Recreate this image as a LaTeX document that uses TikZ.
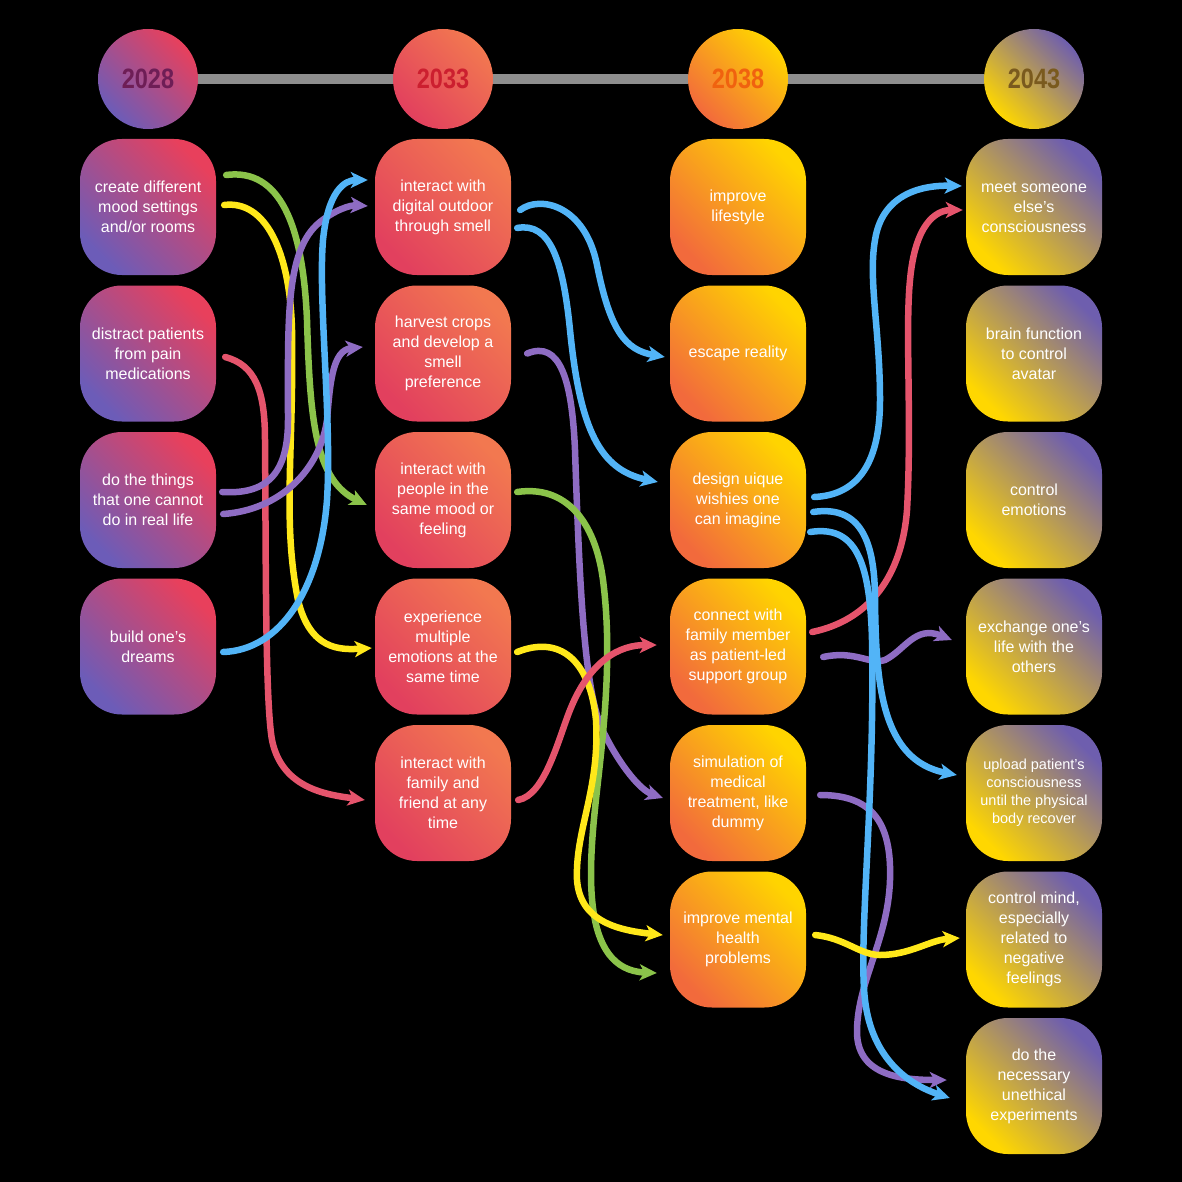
\documentclass[tikz,border=0pt]{standalone}
\usepackage{fontspec}
\setmainfont{Liberation Sans}
\newfontfamily\yearfont[FakeStretch=0.84]{Liberation Sans}
\usetikzlibrary{arrows.meta,calc}
\definecolor{gAbot}{HTML}{6C5CB8}\definecolor{gAtop}{HTML}{E8405C}
\definecolor{gBbot}{HTML}{E2405E}\definecolor{gBtop}{HTML}{F27850}
\definecolor{gCbot}{HTML}{F26A3C}\definecolor{gCtop}{HTML}{FFD400}
\definecolor{gDbot}{HTML}{FFD700}\definecolor{gDtop}{HTML}{6E5EAE}
\definecolor{yA}{HTML}{6E1E56}\definecolor{yB}{HTML}{CC1F2F}
\definecolor{yC}{HTML}{F0620F}\definecolor{yD}{HTML}{7A5A1E}
\definecolor{cgreen}{HTML}{8BC34A}\definecolor{cyellow}{HTML}{FFE81A}
\definecolor{cblue}{HTML}{52B4F7}\definecolor{cpurple}{HTML}{8E6CC3}
\definecolor{cred}{HTML}{E5546C}\definecolor{bargray}{HTML}{8E8E8E}
\begin{document}
\begin{tikzpicture}[x=1pt,y=-1pt,
  box/.style={rounded corners=42pt, minimum width=136pt, minimum height=136pt, inner sep=0pt, text=white, align=center, font=\fontsize{16}{20}\selectfont},
  year/.style={circle, minimum size=100pt, inner sep=0pt, font=\yearfont\bfseries\fontsize{28}{30}\selectfont},
  gA/.style={top color=gAtop, bottom color=gAbot, shading angle=-45},
  gB/.style={top color=gBtop, bottom color=gBbot, shading angle=-45},
  gC/.style={top color=gCtop, bottom color=gCbot, shading angle=-45},
  gD/.style={top color=gDtop, bottom color=gDbot, shading angle=-45},
  bar/.style={line width=10pt, bargray},
  conn/.style={line width=6.5pt, line cap=round, line join=round, -{Stealth[length=17pt,width=16pt,inset=4.5pt]}},
]
\fill[black] (0,0) rectangle (1182,1182);
\useasboundingbox (0,0) rectangle (1182,1182);

% year circles
\node[year, gA, text=yA] (h1) at (148,79) {2028};
\node[year, gB, text=yB] (h2) at (443,79) {2033};
\node[year, gC, text=yC] (h3) at (738,79) {2038};
\node[year, gD, text=yD] (h4) at (1034,79) {2043};
\draw[bar] (h1) -- (h2) (h2) -- (h3) (h3) -- (h4);

% column 1
\node[box,gA] (a1) at (148,207) {create different\\mood settings\\and/or rooms};
\node[box,gA] (a2) at (148,353.5) {distract patients\\from pain\\medications};
\node[box,gA] (a3) at (148,500) {do the things\\that one cannot\\do in real life};
\node[box,gA] (a4) at (148,646.5) {build one’s\\dreams};

% column 2
\node[box,gB] (b1) at (443,207) {interact with\\digital outdoor\\through smell};
\node[box,gB] (b2) at (443,353.5) {harvest crops\\and develop a\\smell\\preference};
\node[box,gB] (b3) at (443,500) {interact with\\people in the\\same mood or\\feeling};
\node[box,gB] (b4) at (443,646.5) {experience\\multiple\\emotions at the\\same time};
\node[box,gB] (b5) at (443,793) {interact with\\family and\\friend at any\\time};

% column 3
\node[box,gC] (c1) at (738,207) {improve\\lifestyle};
\node[box,gC] (c2) at (738,353.5) {escape reality};
\node[box,gC] (c3) at (738,500) {design uique\\wishies one\\can imagine};
\node[box,gC] (c4) at (738,646.5) {connect with\\family member\\as patient-led\\support group};
\node[box,gC] (c5) at (738,793) {simulation of\\medical\\treatment, like\\dummy};
\node[box,gC] (c6) at (738,939.5) {improve mental\\health\\problems};

% column 4
\node[box,gD] (d1) at (1034,207) {meet someone\\else’s\\consciousness};
\node[box,gD] (d2) at (1034,353.5) {brain function\\to control\\avatar};
\node[box,gD] (d3) at (1034,500) {control\\emotions};
\node[box,gD] (d4) at (1034,646.5) {exchange one’s\\life with the\\others};
\node[box,gD,font=\fontsize{14.5}{18}\selectfont] (d5) at (1034,793) {upload patient’s\\consciousness\\until the physical\\body recover};
\node[box,gD] (d6) at (1034,939.5) {control mind,\\especially\\related to\\negative\\feelings};
\node[box,gD] (d7) at (1034,1086) {do the\\necessary\\unethical\\experiments};

% connectors column 1 -> column 2
\draw[conn,cred] ($(a2.east)+(9,3.5)$) .. controls (255,365) and (265,390) .. (265,440) .. controls (266,550) and (265,700) .. (272,740) .. controls (282,790) and (330,795) .. ($(b5.west)+(-10,7)$);
\draw[conn,cgreen] ($(a1.east)+(10,-32)$) .. controls (280,168) and (303,225) .. (307,320) .. controls (310,420) and (315,480) .. ($(b3.west)+(-8,5)$);
\draw[conn,cyellow] ($(a1.east)+(8,-2)$) .. controls (265,200) and (290,250) .. (292,330) .. controls (294,450) and (282,520) .. (298,600) .. controls (310,650) and (340,650) .. ($(b4.west)+(-3,1.5)$);
\draw[conn,cpurple] ($(a3.east)+(6,-8)$) .. controls (270,495) and (288,470) .. (288,420) .. controls (288,320) and (285,250) .. (320,222) .. controls (335,210) and (350,205) .. ($(b1.west)+(-7,-1)$);
\draw[conn,cpurple] ($(a3.east)+(7,14)$) .. controls (280,510) and (320,470) .. (327,420) .. controls (330,385) and (332,350) .. ($(b2.west)+(-12,-6.5)$);
\draw[conn,cblue] ($(a4.east)+(7,5.5)$) .. controls (280,650) and (320,590) .. (327,500) .. controls (332,420) and (318,300) .. (323,240) .. controls (328,190) and (345,180) .. ($(b1.west)+(-7,-27)$);

% connectors column 2 -> column 3
\draw[conn,cblue] ($(b1.east)+(9,3)$) .. controls (540,195) and (585,205) .. (597,265) .. controls (610,330) and (625,350) .. ($(c2.west)+(-5,3.5)$);
\draw[conn,cblue] ($(b1.east)+(6,21)$) .. controls (550,222) and (563,260) .. (570,330) .. controls (580,430) and (600,470) .. ($(c3.west)+(-12,-18)$);
\draw[conn,cpurple] ($(b2.east)+(16,0)$) .. controls (560,340) and (572,380) .. (575,450) .. controls (580,600) and (585,700) .. (605,735) .. controls (620,765) and (640,790) .. ($(c5.west)+(-7,5)$);
\draw[conn,cgreen] ($(b3.east)+(6,-8)$) .. controls (565,485) and (595,520) .. (603,580) .. controls (612,650) and (605,720) .. (597,790) .. controls (588,870) and (580,970) .. ($(c6.west)+(-13,33.5)$);
\draw[conn,cyellow] ($(b4.east)+(6,5.5)$) .. controls (560,635) and (590,660) .. (596,720) .. controls (600,790) and (575,830) .. (577,880) .. controls (580,920) and (615,930) .. ($(c6.west)+(-7,-4.5)$);
\draw[conn,cred] ($(b5.east)+(7,7)$) .. controls (545,795) and (558,740) .. (570,710) .. controls (590,660) and (620,645) .. ($(c4.west)+(-13,-1.5)$);

% connectors column 3 -> column 4
\draw[conn,cred] ($(c4.east)+(6,-14.5)$) .. controls (870,620) and (902,575) .. (907,510) .. controls (912,420) and (905,330) .. (910,280) .. controls (915,225) and (935,210) .. ($(d1.west)+(-3,3)$);
\draw[conn,cpurple] ($(c4.east)+(17,10.5)$) .. controls (855,650) and (870,665) .. (885,660) .. controls (905,650) and (915,625) .. ($(d4.west)+(-14,-6.5)$);
\draw[conn,cpurple] ($(c5.east)+(14,2)$) .. controls (870,795) and (892,820) .. (890,880) .. controls (888,940) and (858,980) .. (857,1030) .. controls (856,1075) and (900,1080) .. ($(d7.west)+(-19,-6)$);
\draw[conn,cblue] ($(c3.east)+(8,-3)$) .. controls (860,495) and (880,460) .. (880,400) .. controls (880,330) and (868,280) .. (875,240) .. controls (882,195) and (920,185) .. ($(d1.west)+(-4,-21)$);
\draw[conn,cblue] ($(c3.east)+(7,12)$) .. controls (860,505) and (875,540) .. (875,600) .. controls (876,680) and (880,760) .. ($(d5.west)+(-9,-18)$);
\draw[conn,cblue] ($(c3.east)+(4,32)$) .. controls (855,525) and (870,560) .. (872,640) .. controls (875,800) and (858,940) .. (865,1000) .. controls (872,1060) and (910,1085) .. ($(d7.west)+(-16,12)$);
\draw[conn,cyellow] ($(c6.east)+(9,-4.5)$) .. controls (845,938) and (860,955) .. (880,955) .. controls (910,955) and (930,940) .. ($(d6.west)+(-6,-1.5)$);
\end{tikzpicture}
\end{document}
